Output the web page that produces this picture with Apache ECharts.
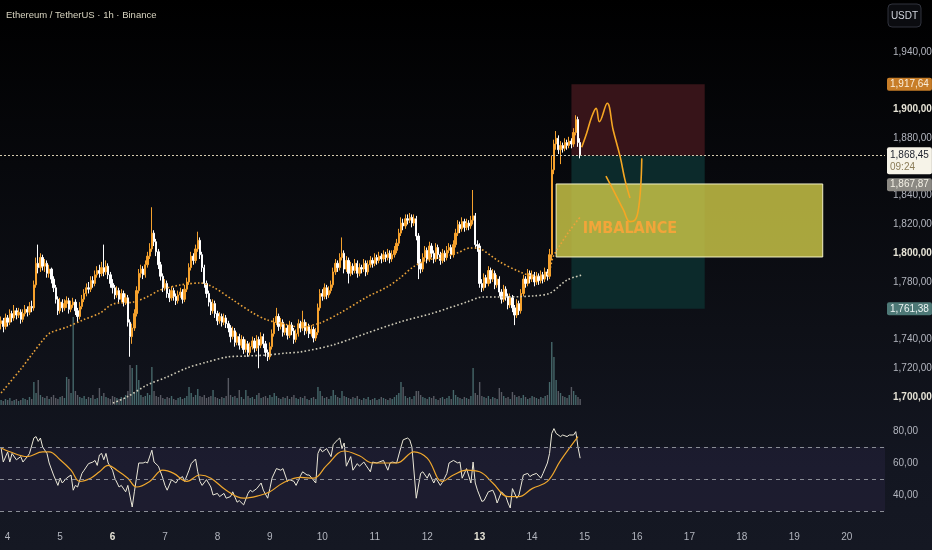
<!DOCTYPE html>
<html><head><meta charset="utf-8">
<script src="https://cdn.jsdelivr.net/npm/echarts@6/dist/echarts.min.js"></script>
<style>
html,body{margin:0;padding:0;}
body{width:932px;height:550px;background:linear-gradient(to bottom,#000000 0%,#07080c 30%,#0e1017 60%,#131621 85%,#151823 100%);}
#c{width:932px;height:550px;}
</style>
</head><body><div id="c"></div>
<script>
// ---------- data ----------
const titleText = 'Ethereum / TetherUS · 1h · Binance';
const dayLabels = ['3','4','5','6','7','8','9','10','11','12','13','14','15','16','17','18','19','20'];
const boldDays = ['6','13'];
const firstHour = 21;      // first candle: day 3, 21:00
const slotCount = 405;     // hourly slots shown (incl. empty future space)
const firstOpen = 1751;

const closes = [
1753,1749,1755,1752,1758,1755,1760,1757,1759,1754,
1758,1761,1759,1763,1762,1778,1793,1790,1797,1791,
1793,1786,1789,1782,1776,1768,1760,1766,1762,1765,
1767,1761,1764,1766,1760,1756,1763,1768,1772,1776,
1775,1781,1779,1785,1788,1786,1790,1787,1791,1785,
1779,1776,1771,1774,1768,1772,1766,1769,1752,1742,
1748,1758,1774,1786,1789,1785,1792,1798,1803,1814,
1808,1801,1792,1784,1776,1779,1772,1769,1774,1770,
1767,1771,1773,1768,1775,1780,1790,1798,1795,1803,
1809,1799,1790,1779,1772,1766,1760,1765,1758,1753,
1756,1752,1755,1751,1748,1742,1746,1738,1742,1736,
1740,1733,1737,1731,1735,1739,1734,1740,1736,1742,
1737,1731,1728,1735,1744,1752,1756,1749,1752,1745,
1748,1743,1750,1746,1740,1744,1751,1748,1752,1746,
1749,1744,1747,1741,1745,1762,1772,1770,1776,1771,
1774,1778,1787,1793,1790,1797,1800,1789,1795,1786,
1791,1788,1793,1786,1790,1789,1793,1787,1792,1795,
1793,1797,1795,1798,1796,1799,1797,1800,1796,1799,
1802,1807,1814,1821,1819,1824,1823,1825,1821,1824,
1812,1793,1789,1797,1802,1796,1805,1800,1796,1804,
1799,1795,1800,1797,1802,1804,1799,1806,1814,1820,
1817,1822,1818,1821,1819,1823,1826,1806,1805,1779,
1776,1783,1779,1788,1782,1786,1778,1782,1773,1768,
1775,1770,1764,1769,1762,1757,1765,1760,1772,1782,
1779,1786,1782,1785,1780,1784,1781,1785,1782,1787,
1784,1799,1858,1876,1880,1872,1875,1873,1877,1875,
1878,1876,1884,1893,1877,1868.45];

const highs = [
1756,1755,1758,1757,1761,1760,1764,1762,1762,1761,
1761,1764,1763,1766,1767,1781,1797,1806,1800,1799,
1796,1795,1792,1790,1784,1778,1770,1769,1768,1768,
1770,1769,1767,1769,1768,1762,1766,1771,1775,1779,
1780,1784,1784,1788,1791,1792,1794,1806,1795,1793,
1787,1782,1778,1777,1776,1775,1774,1772,1771,1754,
1751,1761,1777,1789,1792,1791,1795,1801,1807,1832,
1816,1810,1803,1794,1786,1782,1781,1775,1777,1776,
1772,1774,1776,1775,1778,1783,1793,1801,1800,1806,
1815,1811,1801,1792,1781,1774,1768,1768,1767,1760,
1759,1758,1758,1757,1753,1750,1749,1748,1745,1744,
1743,1742,1740,1739,1738,1742,1741,1743,1742,1745,
1744,1739,1733,1738,1747,1755,1762,1758,1755,1754,
1751,1750,1753,1752,1748,1747,1754,1753,1760,1754,
1752,1751,1750,1749,1748,1765,1775,1775,1779,1778,
1777,1781,1790,1796,1795,1800,1811,1802,1798,1797,
1794,1793,1796,1795,1793,1792,1796,1795,1795,1798,
1797,1800,1799,1801,1800,1802,1801,1803,1802,1802,
1805,1810,1817,1825,1824,1827,1827,1828,1827,1827,
1826,1814,1796,1800,1805,1804,1808,1807,1802,1807,
1806,1801,1803,1802,1805,1807,1806,1809,1817,1823,
1822,1825,1824,1824,1823,1826,1844,1828,1809,1807,
1782,1786,1785,1791,1790,1789,1788,1785,1784,1775,
1778,1777,1772,1772,1771,1764,1768,1767,1775,1785,
1784,1789,1788,1788,1787,1787,1786,1788,1787,1790,
1789,1803,1868,1879,1885,1882,1878,1877,1880,1879,
1881,1880,1887,1896,1895,1880];

const lows = [
1747,1745,1747,1749,1750,1752,1753,1754,1755,1751,
1752,1756,1756,1757,1759,1760,1776,1786,1787,1788,
1787,1783,1783,1779,1773,1765,1757,1758,1759,1760,
1762,1758,1759,1762,1757,1752,1754,1761,1766,1770,
1772,1773,1776,1777,1783,1783,1784,1784,1785,1782,
1776,1772,1768,1769,1765,1766,1763,1764,1749,1728,
1737,1746,1756,1772,1783,1782,1783,1790,1796,1801,
1805,1798,1789,1781,1773,1774,1769,1766,1767,1767,
1764,1765,1769,1765,1766,1773,1778,1788,1792,1793,
1801,1796,1787,1776,1769,1763,1757,1758,1755,1750,
1751,1749,1750,1748,1745,1738,1740,1735,1736,1733,
1734,1730,1731,1728,1729,1733,1731,1732,1720,1734,
1734,1728,1725,1726,1733,1742,1750,1746,1747,1742,
1743,1740,1741,1743,1737,1738,1742,1745,1746,1743,
1744,1741,1742,1738,1739,1743,1760,1767,1768,1768,
1769,1772,1776,1785,1787,1788,1795,1786,1787,1779,
1784,1785,1786,1783,1784,1786,1787,1784,1785,1790,
1790,1791,1792,1793,1793,1794,1794,1795,1793,1794,
1797,1800,1805,1812,1816,1817,1820,1821,1818,1819,
1809,1782,1786,1787,1795,1793,1794,1797,1793,1794,
1796,1792,1793,1794,1795,1800,1796,1797,1804,1812,
1814,1815,1815,1816,1816,1817,1820,1803,1801,1776,
1773,1774,1776,1777,1779,1780,1775,1776,1770,1765,
1766,1767,1761,1762,1759,1750,1755,1757,1758,1770,
1776,1777,1779,1780,1777,1778,1778,1779,1779,1780,
1781,1782,1795,1855,1872,1869,1862,1870,1871,1872,
1873,1873,1874,1882,1874,1866];

const volumes = [
5,4,6,5,7,4,5,6,4,5,7,6,5,8,6,
23,12,25,10,8,7,9,6,8,10,7,6,8,9,7,
28,26,12,88,14,10,8,7,9,6,8,7,10,6,7,
17,9,12,8,7,6,9,8,7,6,8,7,10,14,40,
37,12,40,25,10,8,9,12,10,38,14,9,8,10,7,
6,8,7,9,6,5,7,8,6,7,9,18,12,8,10,
16,9,8,10,7,8,9,15,8,7,6,8,7,9,27,
10,8,9,7,15,8,6,15,9,7,8,6,10,12,7,
8,9,7,10,8,12,9,7,6,8,7,9,6,8,10,
7,6,8,7,9,6,5,7,8,6,18,14,9,7,8,
6,9,15,10,8,7,14,9,8,7,6,8,7,9,6,
5,7,6,8,5,6,7,5,6,8,7,6,5,7,6,
8,10,12,23,18,9,7,8,6,9,14,14,10,8,7,
6,8,7,9,6,5,7,8,6,7,9,6,15,10,8,
7,6,8,7,6,9,37,12,10,23,9,8,7,9,6,
8,7,6,17,13,9,7,8,6,13,10,8,9,7,10,
8,6,7,9,8,7,6,8,7,9,10,23,63,48,25,
14,12,9,8,7,10,18,14,10,8,6];

// moving averages read at points: [hour index, price]
const maFast = [[0,1702.8],[8.7,1718.8],[14.6,1730.6],[19.2,1739.7],[22.4,1744.5],[30.2,1748.7],[37.5,1753.6],[45.3,1758.4],[51.2,1764.7],[60.4,1766],[66.8,1769.6],[72.7,1774.4],[81.9,1777.9],[91,1779.3],[97,1776.5],[106.1,1767.5],[115.3,1758.4],[121.7,1753.6],[127.6,1751.5],[136.8,1748.7],[146,1751.5],[155.1,1758.4],[167.5,1769.6],[176.6,1776.5],[182.6,1782.8],[188.5,1790.4],[194.9,1795.3],[200.9,1796.7],[208.7,1800.2],[214.6,1803.7],[219.2,1803],[228.3,1793.9],[237.5,1787],[243.4,1784.2],[249.8,1784.9],[252.6,1797.4],[255.8,1805.7],[260.4,1816.2],[265,1825.2]];
const maSlow = [[51.2,1695.8],[57.6,1700],[66.8,1708.3],[75.9,1713.9],[85.1,1720.2],[94.2,1724.3],[103.4,1727.8],[112.5,1728.5],[121.7,1729.2],[130.8,1730.6],[136.8,1731.3],[151.9,1736.2],[167.5,1744.5],[182.6,1752.2],[197.7,1758.4],[213.2,1766.1],[220.5,1769.6],[228.3,1769.6],[243.4,1770.3],[251.2,1772.3],[259,1781.4],[265.9,1784.9]];

// hand-drawn projection strokes: [hour index, price]
const pathA = [[265.7,1873.7],[268,1883.7],[270.3,1895],[272.3,1900.8],[273.8,1891.5],[277.4,1904.3],[280.1,1885.7],[283.3,1867.2],[285.5,1851],[287.8,1838.4]];
const pathB = [[276.8,1853.7],[281.7,1839.4],[284.8,1830.1],[287.8,1822],[290.1,1823.1],[291.6,1830.1],[292.7,1846.3],[293.2,1866]];

// zones: [fromIndex, toIndex, lowPrice, highPrice]
const stopZone = [261, 322, 1868, 1917.64];
const targetZone = [261, 322, 1761.38, 1868];
const imbalanceZone = [254, 376, 1797.4, 1848.2];
const imbalanceText = 'IMBALANCE';

// price tags
const lastPrice = 1868.45, countdown = '09:24';
const stopPrice = 1917.64, otherPrice = 1867.87, targetPrice = 1761.38;
const hiddenPriceTicks = [1920, 1860, 1760]; // covered by tags in the original

// RSI
const rsi = [[0,69.4],[1,60.6],[3,66.9],[4,60.6],[5,66],[7,62],[9,64],[10,60.6],[12,64],[13,66],[15,75.6],[16,76.5],[17,73.5],[18,75.6],[19,70],[21,66],[22,60],[24,52.5],[26,46],[27,50.6],[28,47.5],[30,50.6],[32,52.5],[33,43],[34,46],[35,45],[37,53.5],[38,55.5],[40,59.6],[42,60.6],[43,61.6],[44,58.5],[45,65],[46,66],[47,62],[48,66],[49,60],[51,55.5],[52,50.6],[54,45],[55,46],[57,42],[58,46],[60,32.5],[61,42],[63,60],[65,60],[66,60.6],[67,60],[69,68],[70,60.6],[72,58],[74,50.6],[75,46],[76,43],[78,49.6],[80,47.5],[81,49.6],[83,51.5],[84,48.5],[86,55.5],[87,59.6],[89,62.5],[90,54.5],[91,48.5],[92,46],[94,49.6],[96,45],[97,40],[99,41],[100,39],[102,41],[103,38],[105,39],[106,42],[108,35.5],[109,36.5],[111,33.8],[113,41],[114,43],[115,42],[117,44],[119,47.5],[120,43],[122,38],[123,44],[124,50.6],[126,56.5],[128,55.5],[129,56.5],[131,48.5],[132,49.6],[134,48.5],[135,46],[137,52],[138,54.5],[140,52.5],[141,52.5],[144,47.5],[145,66],[146,69],[147,67],[149,69],[151,64],[152,71.5],[154,74.5],[155,75.6],[156,69],[157,72.5],[158,58],[160,64],[161,55.5],[163,59.6],[164,58],[166,60.6],[167,58.5],[169,54.5],[170,60.6],[172,60],[173,60.6],[175,61.6],[177,55.5],[178,60],[179,60.6],[181,60],[183,70],[184,74.5],[186,75.6],[187,74.5],[188,70],[190,38],[192,53.5],[193,54.5],[195,50.5],[196,53.5],[198,47.5],[199,50.5],[201,46],[202,48],[204,53.5],[205,60],[207,61.6],[209,60],[210,60.6],[211,50.5],[213,56.5],[215,47.5],[216,60.6],[217,47.5],[218,43],[220,36],[221,36.5],[223,42],[225,43],[226,40],[227,35],[229,42],[231,39],[232,35],[233,31.9],[234,44],[236,38],[237,40],[239,52.5],[241,53.5],[242,51.5],[243,52.5],[245,53.5],[247,50.5],[248,53.5],[250,60],[251,66],[252,78.5],[253,81.5],[254,78.5],[256,76.5],[257,77.5],[259,76.5],[260,77.5],[262,77.5],[263,79.6],[264,70],[265,63]];
const rsiMa = [[0,69.4],[4,67],[12,64],[19,67],[22,67],[27,62],[32,55.5],[36,48.5],[41,50.5],[45,54.5],[49,58.5],[53,55.5],[58,50.5],[62,45],[68,48.5],[74,55.5],[79,53.5],[85,48.5],[91,52.5],[96,50.5],[103,43],[111,38],[119,40],[123,42],[129,47.5],[137,51],[143,50.5],[149,58.5],[157,67.5],[164,64.5],[170,60],[181,60],[189,67],[195,63],[202,48.5],[207,52.5],[213,55.5],[219,54.5],[225,47.5],[232,39],[237,39],[243,44],[250,48.5],[256,61.5],[264,76.5]];
const rsiLevels = [30, 50, 70];
const rsiTickLabels = [40, 60, 80];

// ---------- build ----------
const FONT = "'Liberation Sans','Arial',sans-serif";
const BIGFONT = "'DejaVu Sans Condensed','DejaVu Sans',sans-serif";
const fmt = v => { const s = Number(v).toFixed(2).split('.'); return s[0].replace(/\B(?=(\d{3})+(?!\d))/g, ',') + ',' + s[1]; };

const categories = [];
for (let i = 0; i < slotCount; i++) {
  const t = firstHour + i;
  categories.push(dayLabels[Math.floor(t / 24)] + ' ' + String(t % 24).padStart(2, '0') + ':00');
}
const candleData = closes.map((c, i) => {
  const o = i === 0 ? firstOpen : closes[i - 1];
  return [o, c, lows[i], highs[i]];
});
const volData = volumes.map((v, i) => ({
  value: v,
  itemStyle: { color: candleData[i][1] >= candleData[i][0] ? 'rgba(92,140,140,0.7)' : 'rgba(118,120,128,0.7)' }
}));

const noLine = { color: 'rgba(0,0,0,0)', width: 0 };
const tagLabel = (text, bg, fg, offY) => ({
  show: true, position: 'end', distance: 2, formatter: text,
  backgroundColor: bg, color: fg, padding: [2, 3, 1, 3], borderRadius: 2,
  fontFamily: FONT, fontSize: 10, offset: [0, offY || 0]
});
const gridBase = { left: 0, right: 47, containLabel: false, outerBoundsMode: 'none' };

const chart = echarts.init(document.getElementById('c'), null, { renderer: 'canvas' });
chart.setOption({
  animation: false,
  backgroundColor: 'transparent',
  title: { text: titleText, left: 6, top: 10, padding: 0, textStyle: { color: '#d8d4c0', fontSize: 9.5, fontWeight: 'normal', fontFamily: FONT } },
  grid: [
    Object.assign({ top: 0, height: 425.75 }, gridBase),
    Object.assign({ top: 305, height: 100 }, gridBase),
    Object.assign({ top: 415, height: 112 }, gridBase)
  ],
  xAxis: [
    { type: 'category', gridIndex: 0, data: categories, show: false },
    { type: 'value', gridIndex: 0, min: -0.5, max: slotCount - 0.5, show: false },
    { type: 'category', gridIndex: 1, data: categories, show: false },
    { type: 'category', gridIndex: 2, data: categories,
      axisLine: { show: false }, axisTick: { show: false }, splitLine: { show: false },
      axisLabel: {
        margin: 5, color: '#b2b5be', fontSize: 10, fontFamily: FONT,
        interval: (idx, val) => val.endsWith(' 00:00'),
        formatter: val => { const d = val.split(' ')[0]; return boldDays.includes(d) ? '{b|' + d + '}' : d; },
        rich: { b: { fontWeight: 'bold', color: '#e6e3d6', fontSize: 10, fontFamily: FONT } }
      } },
    { type: 'value', gridIndex: 2, min: -0.5, max: slotCount - 0.5, show: false }
  ],
  yAxis: [
    { type: 'value', gridIndex: 0, position: 'right', min: 1680, max: 1976.17, interval: 20,
      splitLine: { show: false }, axisLine: { show: false }, axisTick: { show: false },
      axisLabel: {
        margin: 8, color: '#b2b5be', fontSize: 10, fontFamily: FONT, showMaxLabel: false,
        formatter: v => (v < 1700 || v > 1940 || hiddenPriceTicks.includes(v)) ? '' : (v % 100 === 0 ? '{b|' + fmt(v) + '}' : fmt(v)),
        rich: { b: { fontWeight: 'bold', color: '#e6e3d6', fontSize: 10, fontFamily: FONT } }
      } },
    { type: 'value', gridIndex: 1, min: 0, max: 100, show: false },
    { type: 'value', gridIndex: 2, position: 'right', min: 20, max: 90, interval: 10,
      splitLine: { show: false }, axisLine: { show: false }, axisTick: { show: false },
      axisLabel: { margin: 8, color: '#b2b5be', fontSize: 10, fontFamily: FONT,
        formatter: v => rsiTickLabels.includes(v) ? v + ',00' : '' } }
  ],
  series: [
    { type: 'line', name: 'zones', xAxisIndex: 1, yAxisIndex: 0, data: [], z: 1, silent: true,
      markArea: { silent: true, data: [
        [{ coord: [targetZone[0], targetZone[2]], itemStyle: { color: '#0c2a2b' } }, { coord: [targetZone[1], targetZone[3]] }],
        [{ coord: [stopZone[0], stopZone[2]], itemStyle: { color: '#371419' } }, { coord: [stopZone[1], stopZone[3]] }],
        [{ coord: [imbalanceZone[0], imbalanceZone[2]], name: imbalanceText,
           itemStyle: { color: 'rgba(205,200,72,0.82)', borderColor: 'rgba(250,248,205,0.95)', borderWidth: 1 },
           label: { show: true, position: 'insideLeft', distance: 27, offset: [0, 8], color: '#f2a53a', fontSize: 16, fontWeight: 'bold', fontFamily: BIGFONT } },
         { coord: [imbalanceZone[1], imbalanceZone[3]] }]
      ], label: { show: false } } },
    { type: 'bar', name: 'vol', xAxisIndex: 2, yAxisIndex: 1, data: volData, barWidth: 1.4, z: 1, silent: true },
    { type: 'candlestick', name: 'ETHUSDT', xAxisIndex: 0, yAxisIndex: 0, data: candleData, barWidth: 1.8, z: 3,
      itemStyle: { color: '#f5a12d', color0: '#ffffff', borderColor: '#f5a12d', borderColor0: '#ffffff', borderWidth: 1 },
      markLine: { silent: true, symbol: ['none', 'none'], animation: false, data: [
        { yAxis: lastPrice, lineStyle: { type: [2, 2], color: '#d6ccb0', width: 1 },
          label: Object.assign(tagLabel('{p|' + fmt(lastPrice) + '}\n{t|' + countdown + '}', '#f6f3e8', '#1e222d', 6),
            { rich: { p: { color: '#1e222d', fontSize: 10, fontFamily: FONT, lineHeight: 12 }, t: { color: '#8a7c58', fontSize: 10, fontFamily: FONT, lineHeight: 12 } } }) },
        { yAxis: stopPrice, lineStyle: noLine, label: tagLabel(fmt(stopPrice), '#c77d28', '#fbefdc') },
        { yAxis: otherPrice, lineStyle: noLine, label: tagLabel(fmt(otherPrice), '#8b8983', '#f4f1e6', 29) },
        { yAxis: targetPrice, lineStyle: noLine, label: tagLabel(fmt(targetPrice), '#4d7876', '#eef4f3') }
      ] } },
    { type: 'line', name: 'MA fast', xAxisIndex: 1, yAxisIndex: 0, data: maFast, showSymbol: false, smooth: 0.3, z: 4, silent: true,
      lineStyle: { color: '#eba33a', width: 1.6, type: [1.6, 2.2] } },
    { type: 'line', name: 'MA slow', xAxisIndex: 1, yAxisIndex: 0, data: maSlow, showSymbol: false, smooth: 0.3, z: 4, silent: true,
      lineStyle: { color: '#cfcbb8', width: 1.6, type: [1.6, 2.2] } },
    { type: 'line', name: 'path A', xAxisIndex: 1, yAxisIndex: 0, data: pathA, showSymbol: false, smooth: 0.4, z: 5, silent: true,
      lineStyle: { color: '#f5a623', width: 1.6 } },
    { type: 'line', name: 'path B', xAxisIndex: 1, yAxisIndex: 0, data: pathB, showSymbol: false, smooth: 0.4, z: 5, silent: true,
      lineStyle: { color: '#f5a623', width: 1.6 } },
    { type: 'line', name: 'RSI', xAxisIndex: 4, yAxisIndex: 2, data: rsi, showSymbol: false, z: 4, silent: true,
      lineStyle: { color: '#ebe8d8', width: 1 },
      markArea: { silent: true, itemStyle: { color: 'rgba(126,87,194,0.09)' }, data: [[{ yAxis: rsiLevels[0] }, { yAxis: rsiLevels[2] }]] },
      markLine: { silent: true, symbol: ['none', 'none'], label: { show: false },
        lineStyle: { color: '#8a8d96', width: 1, type: [4, 4] },
        data: rsiLevels.map(v => ({ yAxis: v })) } },
    { type: 'line', name: 'RSI MA', xAxisIndex: 4, yAxisIndex: 2, data: rsiMa, showSymbol: false, smooth: 0.4, z: 4, silent: true,
      lineStyle: { color: '#f0a82e', width: 1.2 } }
  ],
  graphic: [
    { type: 'rect', shape: { x: 888, y: 4, width: 33, height: 23, r: 4 }, style: { fill: '#0b0c10', stroke: '#30333d', lineWidth: 1 } },
    { type: 'text', x: 904.5, y: 16, style: { text: 'USDT', fill: '#d1d4dc', fontSize: 10, fontFamily: FONT, align: 'center', verticalAlign: 'middle' } }
  ]
});
</script>
</body></html>
